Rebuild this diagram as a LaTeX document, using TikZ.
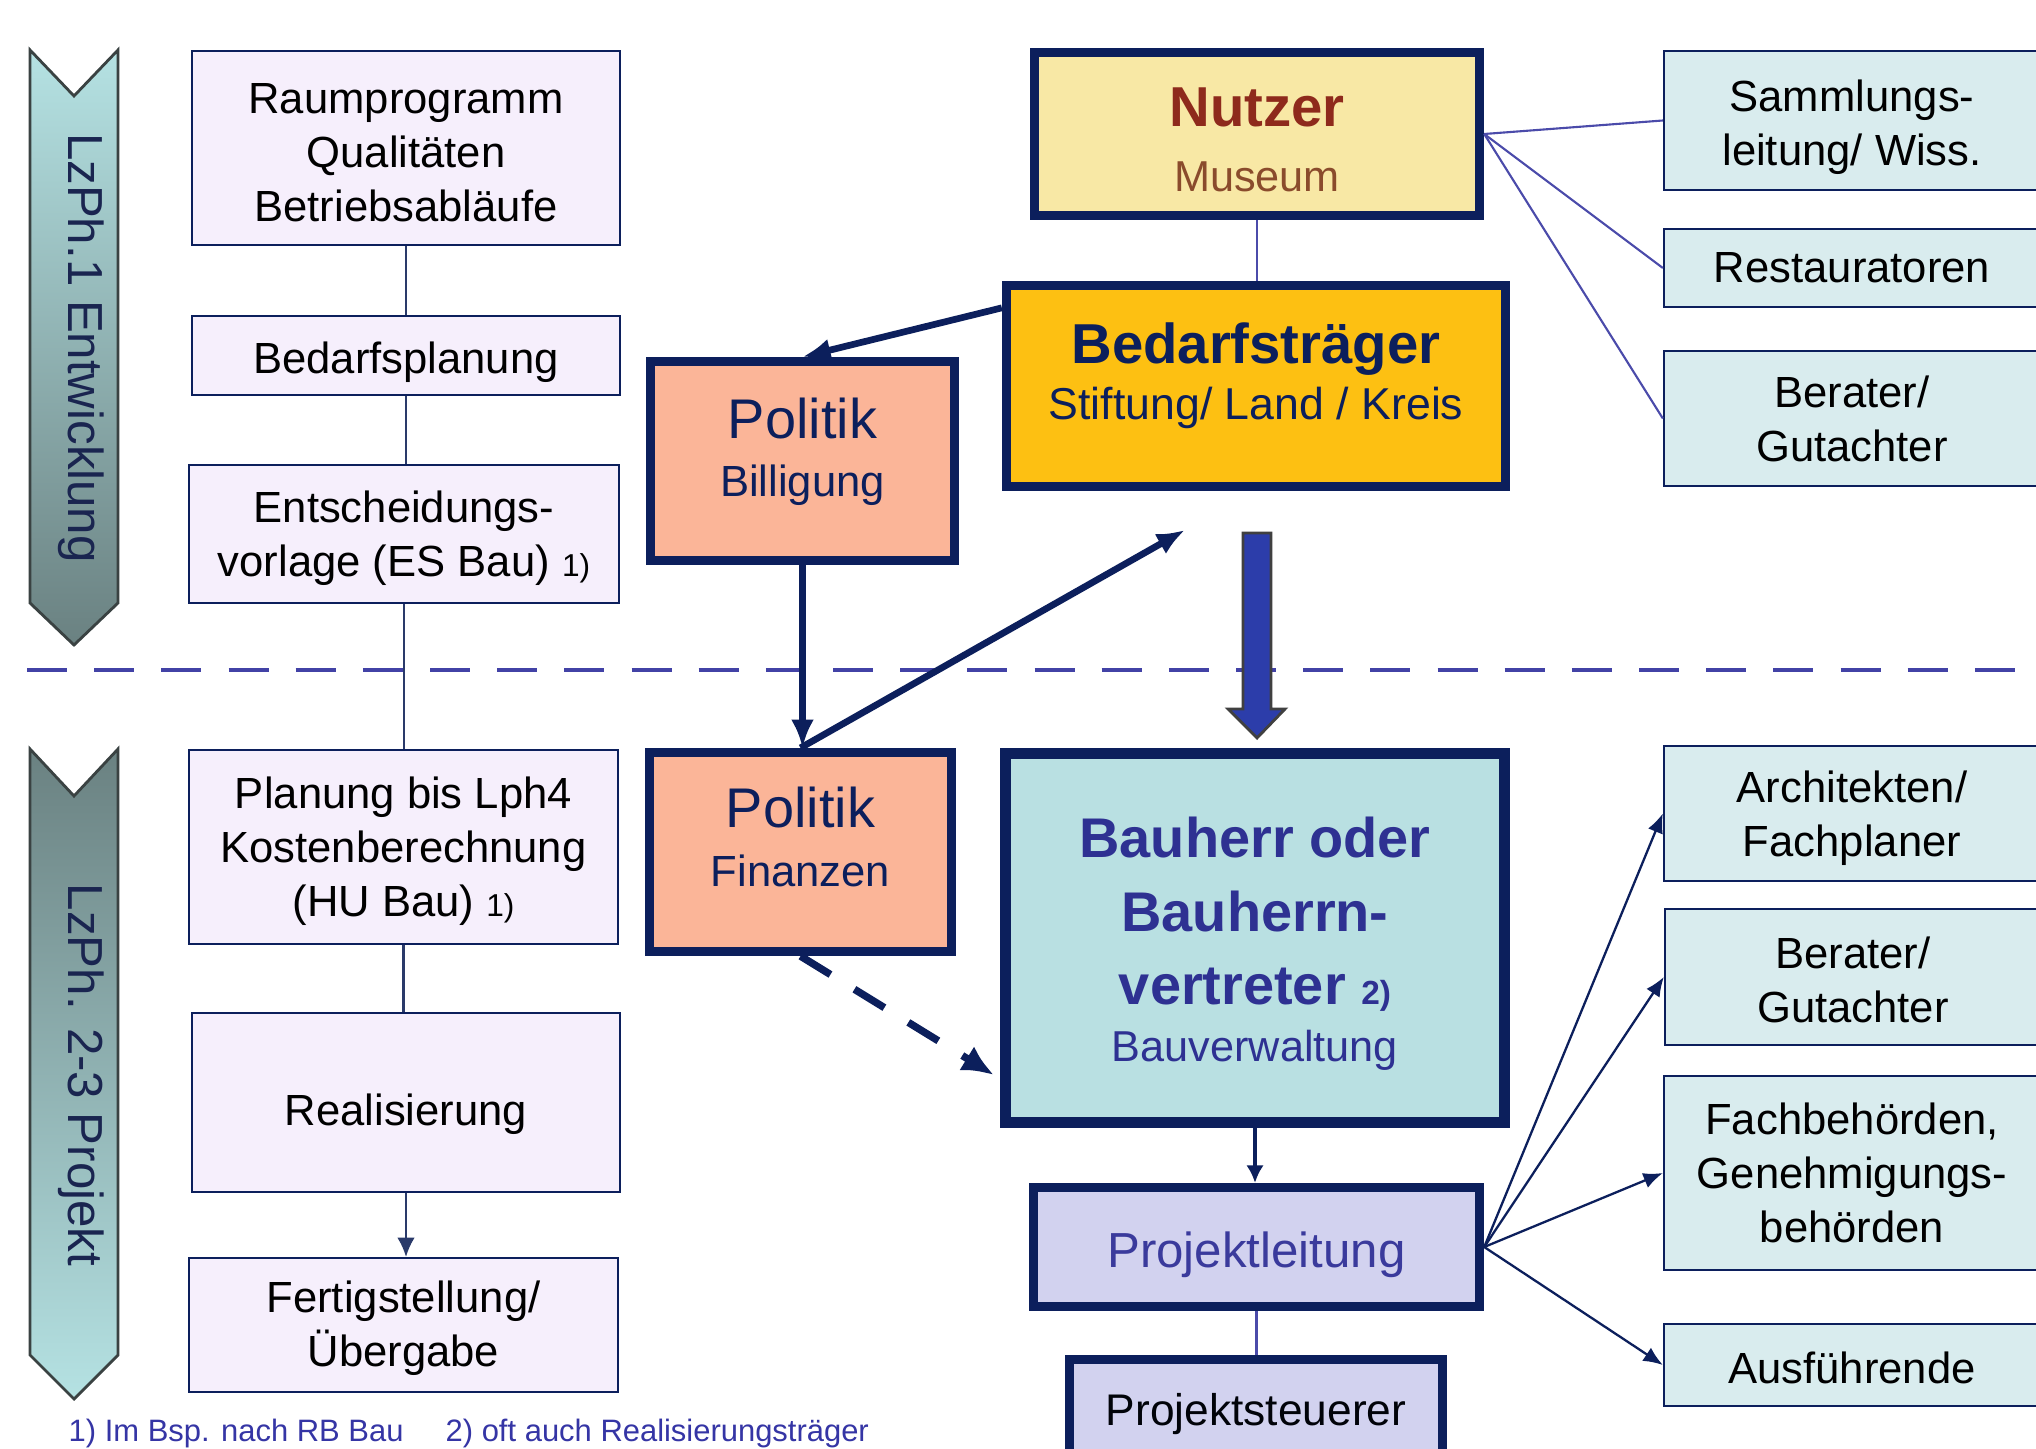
\documentclass[tikz,border=0pt]{standalone}
\usepackage{fontspec}
\setmainfont{Liberation Sans}
\usetikzlibrary{arrows.meta,calc}
\definecolor{navy}{HTML}{0C1F5C}
\definecolor{lavfill}{HTML}{F6EFFC}
\definecolor{bluefill}{HTML}{D9ECEE}
\definecolor{salmon}{HTML}{FBB598}
\definecolor{amber}{HTML}{FDC012}
\definecolor{paleyellow}{HTML}{F8E8A5}
\definecolor{tealfill}{HTML}{B9E0E2}
\definecolor{lilac}{HTML}{D2D2EF}
\definecolor{indigo}{HTML}{2E3192}
\definecolor{plblue}{HTML}{3A3A9C}
\definecolor{dashblue}{HTML}{4242A6}
\definecolor{blockblue}{HTML}{2C3DAA}
\definecolor{nutzred}{HTML}{8E2A1C}
\definecolor{nutzbrown}{HTML}{8A4B2C}
\definecolor{chevlight}{HTML}{B5E2E3}
\definecolor{chevdark}{HTML}{6A8181}
\definecolor{chevborder}{HTML}{3A4242}
\definecolor{chevtext}{HTML}{1A2550}
\definecolor{thinline}{HTML}{4B4BAA}
\definecolor{linkcol}{HTML}{2A3A6A}
\definecolor{footcol}{HTML}{3535A5}
\newcommand{\up}[1]{\rule{0pt}{#1}}
\newcommand{\dn}[1]{\rule[-#1]{0pt}{#1}}
\tikzset{
  phasebox/.style={draw=navy, line width=0.6pt, fill=lavfill, align=center, inner sep=0pt,
    font=\fontsize{12.4}{15.4}\selectfont, text=black},
  rolebox/.style={draw=navy, line width=0.6pt, fill=bluefill, align=center, inner sep=0pt,
    font=\fontsize{12.4}{15.4}\selectfont, text=black, minimum width=3.76cm},
  heavybox/.style={draw=navy, line width=2.6pt, align=center, inner sep=0pt},
  chevron/.style={draw=chevborder, line width=0.8pt},
  chevlabel/.style={rotate=-90, font=\fontsize{14}{16}\selectfont, text=chevtext},
  linkline/.style={draw=linkcol, line width=0.6pt},
  linkarrow/.style={linkline, -{Latex[length=5.5pt,width=5pt]}},
  thinl/.style={draw=thinline, line width=0.6pt},
  rolearrow/.style={draw=navy, line width=0.65pt, -{Latex[length=5.5pt,width=4.5pt]}},
  heavyarrow/.style={draw=navy, line width=1.9pt, -{Latex[length=8pt,width=6.5pt]}},
  midarrow/.style={draw=navy, line width=1.2pt, -{Latex[length=5pt,width=5pt]}},
  dasharrow/.style={draw=navy, line width=2.1pt, dash pattern=on 10pt off 8pt, -{Latex[length=9pt,width=8pt]}},
  foottext/.style={font=\fontsize{8.8}{10}\selectfont, text=footcol, inner sep=0pt}
}
\begin{document}
\begin{tikzpicture}[x=0.01cm,y=-0.01cm]
\useasboundingbox (0,0) rectangle (2036,1449);
\clip (0,0) rectangle (2036,1449);
\fill[white] (0,0) rectangle (2036,1449);

% phase chevrons
\shade[chevron, top color=chevlight, bottom color=chevdark]
  (30,50) -- (74,96) -- (118,50) -- (118,603) -- (74,645) -- (30,603) -- cycle;
\shade[chevron, top color=chevdark, bottom color=chevlight]
  (30,749) -- (74,796) -- (118,749) -- (118,1355) -- (74,1399) -- (30,1355) -- cycle;
\node[chevlabel] (ph1) at (81,348) {LzPh.1 Entwicklung};
\node[chevlabel] (ph2) at (81,1075) {LzPh. 2-3 Projekt};

% dashed separator
\draw[dashblue, line width=1.3pt, dash pattern=on 11.4pt off 7.7pt] (27,670) -- (2040,670);

% left column
\node[phasebox, minimum width=4.28cm, minimum height=1.94cm] (r1) at (406,148) {\up{11.3pt}Raumprogramm\\Qualitäten\\Betriebsabläufe};
\node[phasebox, minimum width=4.28cm, minimum height=0.79cm] (r2) at (406,355.5) {\up{12.75pt}Bedarfsplanung};
\node[phasebox, minimum width=4.30cm, minimum height=1.38cm] (r3) at (404,534) {\up{11.3pt}Entscheidungs-\\vorlage (ES Bau) {\fontsize{9}{10}\selectfont 1)}};
\node[phasebox, minimum width=4.29cm, minimum height=1.94cm] (r4) at (403.5,847) {\up{11.3pt}Planung bis Lph4\\Kostenberechnung\\(HU Bau) {\fontsize{9}{10}\selectfont 1)}};
\node[phasebox, minimum width=4.28cm, minimum height=1.79cm] (r5) at (406,1102.5) {\up{15.9pt}Realisierung};
\node[phasebox, minimum width=4.29cm, minimum height=1.34cm] (r6) at (403.5,1325) {\up{10.75pt}Fertigstellung/\\Übergabe};

\draw[linkline] (r1.south) -- (r1.south |- r2.north);
\draw[linkline] (r2.south) -- (r2.south |- r3.north);
\draw[linkline] (r3.south) -- (r3.south |- r4.north);
\draw[linkline] (r4.south) -- (r4.south |- r5.north);
\draw[linkarrow] (r5.south) -- (r5.south |- r6.north);

% right column
\node[rolebox, minimum height=1.39cm] (s1) at (1852,120.5) {\up{12.75pt}Sammlungs-\\leitung/ Wiss.};
\node[rolebox, minimum height=0.78cm] (s2) at (1852,268) {Restauratoren};
\node[rolebox, minimum height=1.35cm] (s3) at (1852,418.5) {Berater/\\Gutachter};
\node[rolebox, minimum height=1.35cm] (s4) at (1852,813.5) {\up{11.9pt}Architekten/\\Fachplaner};
\node[rolebox, minimum height=1.36cm] (s5) at (1853,977) {\up{10.5pt}Berater/\\Gutachter};
\node[rolebox, minimum height=1.94cm] (s6) at (1852,1173) {Fachbehörden,\\Genehmigungs-\\behörden};
\node[rolebox, minimum height=0.82cm] (s7) at (1852,1365) {\up{10.5pt}Ausführende};

% centre column
\node[heavybox, fill=paleyellow, minimum width=4.45cm, minimum height=1.63cm,
  font=\fontsize{12.3}{18.4}\selectfont] (nutzer) at (1257,134)
  {\up{14.3pt}{\fontsize{16}{18.4}\selectfont\bfseries\color{nutzred}Nutzer}\\{\color{nutzbrown}Museum}};
\node[heavybox, fill=amber, minimum width=4.99cm, minimum height=2.01cm, text=navy,
  font=\fontsize{12.7}{16}\selectfont] (bed) at (1256,386)
  {{\fontsize{16}{16}\selectfont\bfseries Bedarfsträger}\\Stiftung/ Land / Kreis\dn{8.4pt}};
\node[heavybox, fill=salmon, minimum width=3.04cm, minimum height=1.99cm, text=navy,
  font=\fontsize{12.4}{16.5}\selectfont] (polb) at (802.5,461)
  {{\fontsize{15.9}{16.5}\selectfont Politik}\\Billigung\dn{7.7pt}};
\node[heavybox, fill=salmon, minimum width=3.02cm, minimum height=1.99cm, text=navy,
  font=\fontsize{12.4}{16.7}\selectfont] (polf) at (800.5,852)
  {{\fontsize{15.9}{16.7}\selectfont Politik}\\Finanzen\dn{8.6pt}};
\node[heavybox, line width=3.1pt, fill=tealfill, minimum width=4.99cm, minimum height=3.69cm, text=indigo,
  font=\fontsize{15.9}{20.8}\selectfont\bfseries] (bau) at (1255,938)
  {\up{15pt}Bauherr oder\\Bauherrn-\\vertreter {\fontsize{9.5}{10}\selectfont 2)}\\[-4.4pt]{\mdseries\fontsize{12.3}{20.8}\selectfont Bauverwaltung}};
\node[heavybox, fill=lilac, minimum width=4.46cm, minimum height=1.19cm, text=plblue,
  font=\fontsize{14}{16}\selectfont] (pl) at (1256.5,1247) {\up{14.8pt}Projektleitung};
\node[heavybox, fill=lilac, minimum width=3.73cm, minimum height=1.05cm, text=black!90!navy,
  font=\fontsize{12.6}{15}\selectfont] (ps) at (1256,1412) {\up{10.5pt}Projektsteuerer};

% block arrow
\filldraw[fill=blockblue, draw=black!75, line width=0.8pt]
  (1243,533) -- (1271,533) -- (1271,709) -- (1285,709) -- (1257,738) -- (1228,709) -- (1243,709) -- cycle;

% connectors in the centre
\draw[thinl] (nutzer.south) -- (nutzer.south |- bed.north);
\foreach \t in {s1,s2,s3} \draw[thinl] (nutzer.east) -- (\t.west);
\draw[heavyarrow] ($(bed.north west)+(0,27)$) -- (polb.north);
\draw[heavyarrow] (polb.south) -- (polb.south |- polf.north);
\coordinate (upend) at (1185,530);
\draw[heavyarrow] (polf.north) -- (upend);
\draw[dasharrow] (polf.south) -- ($(bau.west)+(-6,137)$);
\draw[midarrow] (bau.south) -- (bau.south |- pl.north);
\draw[thinl] (pl.south) -- (pl.south |- ps.north);
\foreach \t in {s4,s5,s6,s7} \draw[rolearrow] (pl.east) -- (\t.west);

% footnotes
\node[foottext, anchor=base west] (fn1) at (68,1441) {1) Im Bsp. nach RB Bau};
\node[foottext, anchor=base west] (fn2) at (445,1441) {2) oft auch Realisierungsträger};
\end{tikzpicture}
\end{document}
